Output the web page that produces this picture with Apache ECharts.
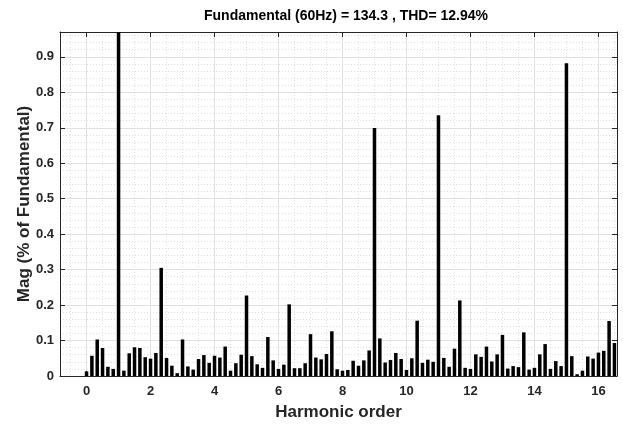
<!DOCTYPE html>
<html><head><meta charset="utf-8">
<script src="https://cdn.jsdelivr.net/npm/echarts@6/dist/echarts.min.js"></script>
<style>html,body{margin:0;padding:0;background:#fff}#c{width:623px;height:426px}</style>
</head><body><div id="c"></div>
<script>
// Frequency resolution 10 Hz, fundamental 60 Hz -> harmonic order step 1/6
const freqStepHz = 10;
const fundamentalHz = 60;
const titleText = 'Fundamental (60Hz) = 134.3 , THD= 12.94%';
const xName = 'Harmonic order';
const yName = 'Mag (% of Fundamental)';
const xTicks = [0, 2, 4, 6, 8, 10, 12, 14, 16];
const yTicks = [0, 0.1, 0.2, 0.3, 0.4, 0.5, 0.6, 0.7, 0.8, 0.9];
const magValues = [
  0.013, 0.057, 0.103, 0.079, 0.026, 0.020, 100, 0.015, 0.064, 0.081,
  0.079, 0.053, 0.049, 0.065, 0.305, 0.051, 0.029, 0.008, 0.103, 0.027,
  0.018, 0.048, 0.059, 0.037, 0.057, 0.052, 0.083, 0.015, 0.036, 0.060,
  0.227, 0.056, 0.033, 0.023, 0.110, 0.044, 0.020, 0.032, 0.202, 0.022,
  0.022, 0.036, 0.118, 0.052, 0.047, 0.062, 0.126, 0.019, 0.015, 0.017,
  0.043, 0.029, 0.044, 0.072, 0.699, 0.106, 0.038, 0.045, 0.065, 0.048,
  0.017, 0.050, 0.156, 0.037, 0.046, 0.040, 0.735, 0.051, 0.026, 0.077,
  0.213, 0.023, 0.020, 0.061, 0.054, 0.083, 0.041, 0.061, 0.116, 0.021,
  0.028, 0.025, 0.123, 0.018, 0.023, 0.061, 0.090, 0.020, 0.042, 0.028,
  0.882, 0.056, 0.005, 0.015, 0.055, 0.049, 0.066, 0.071, 0.155, 0.093
];
const harmonicOrder = magValues.map((_, i) => i * freqStepHz / fundamentalHz);
const barData = magValues.map((v, i) => [harmonicOrder[i], v]);

const FONT = '"Liberation Sans", Arial, sans-serif';
const AX = '#262626';
const majorGrid = {show: true, lineStyle: {color: '#e0e0e0', width: 1}};
const minorGrid = {show: true, lineStyle: {color: '#dedede', width: 1, type: [1, 2]}};
const xMin = -0.83, xMax = 16.58, yMin = 0, yMax = 0.97;

function xAxisCfg(pos, main) {
  return {
    type: 'value', position: pos, min: xMin, max: xMax,
    minInterval: 2, maxInterval: 2,
    axisLine: {show: true, onZero: false, lineStyle: {color: AX, width: 1}},
    axisTick: {show: true, inside: true, length: 5, lineStyle: {color: AX}},
    minorTick: {show: false, splitNumber: 4},
    axisLabel: {show: main, showMinLabel: false, showMaxLabel: false, margin: 9,
      color: '#262626', fontFamily: FONT, fontWeight: 'bold', fontSize: 13,
      formatter: v => xTicks.includes(v) ? String(v) : ''},
    splitLine: main ? majorGrid : {show: false},
    minorSplitLine: main ? minorGrid : {show: false},
    name: main ? xName : '', nameLocation: 'middle', nameGap: 28, nameMoveOverlap: false,
    nameTextStyle: {color: '#262626', fontFamily: FONT, fontWeight: 'bold', fontSize: 17}
  };
}
function yAxisCfg(pos, main) {
  return {
    type: 'value', position: pos, min: yMin, max: yMax,
    minInterval: 0.1, maxInterval: 0.1,
    axisLine: {show: true, onZero: false, lineStyle: {color: AX, width: 1}},
    axisTick: {show: true, inside: true, length: 5, lineStyle: {color: AX}},
    minorTick: {show: false, splitNumber: 5},
    axisLabel: {show: main, showMaxLabel: false, margin: 6,
      color: '#262626', fontFamily: FONT, fontWeight: 'bold', fontSize: 13,
      formatter: v => yTicks.some(t => Math.abs(t - v) < 1e-9) ? String(+v.toFixed(1)) : ''},
    splitLine: main ? majorGrid : {show: false},
    minorSplitLine: main ? minorGrid : {show: false},
    name: main ? yName : '', nameLocation: 'middle', nameGap: 27, nameMoveOverlap: false,
    nameTextStyle: {color: '#262626', fontFamily: FONT, fontWeight: 'bold', fontSize: 17}
  };
}

const chart = echarts.init(document.getElementById('c'), null, {renderer: 'canvas'});
chart.setOption({
  animation: false,
  backgroundColor: '#ffffff',
  title: {text: titleText, left: 341, top: 4, textAlign: 'center',
    textStyle: {color: '#000', fontFamily: FONT, fontWeight: 'bold', fontSize: 14}},
  grid: {left: 60, right: 6, top: 32, bottom: 49, containLabel: false},
  xAxis: [xAxisCfg('bottom', true), xAxisCfg('top', false)],
  yAxis: [yAxisCfg('left', true), yAxisCfg('right', false)],
  series: [{
    type: 'bar', xAxisIndex: 0, yAxisIndex: 0, data: barData,
    barWidth: 3.5, clip: true, itemStyle: {color: '#000'}
  }]
});
</script></body></html>
